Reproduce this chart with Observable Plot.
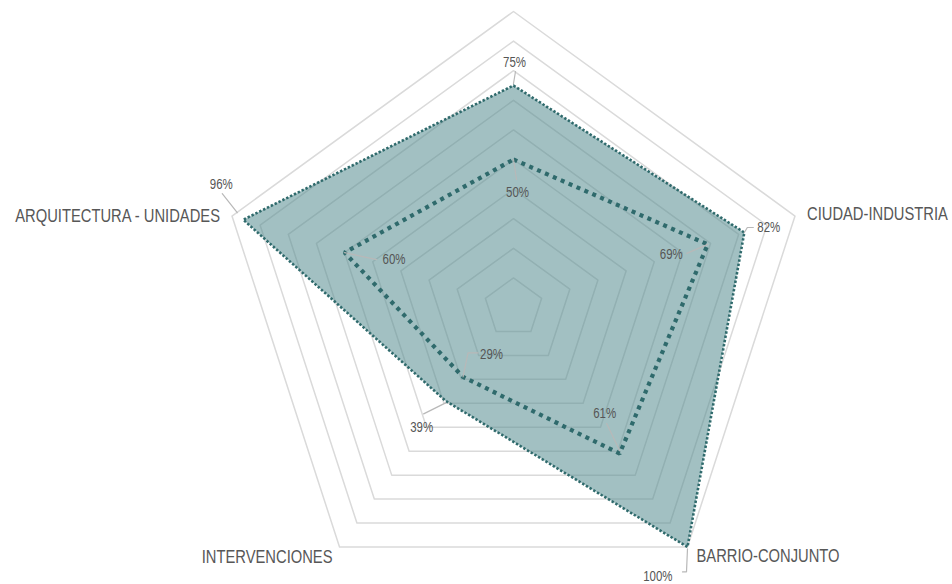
<!DOCTYPE html>
<html><head><meta charset="utf-8">
<script src="https://cdn.jsdelivr.net/npm/d3@7"></script>
<script src="https://cdn.jsdelivr.net/npm/@observablehq/plot@0.6"></script>
<style>body{margin:0;background:#fff;overflow:hidden}</style>
</head><body><div id="chart"></div>
<script>
// ---- data ----
const categories = ["", "CIUDAD-INDUSTRIA", "BARRIO-CONJUNTO", "INTERVENCIONES", "ARQUITECTURA - UNIDADES"];
const outerValues = [0.75, 0.82, 1.00, 0.39, 0.96];
const innerValues = [0.50, 0.69, 0.61, 0.29, 0.60];
const gridLevels = [0.1, 0.2, 0.3, 0.4, 0.5, 0.6, 0.7, 0.8, 0.9, 1.0];

// ---- layout ----
const W = 952, H = 584, CX = 513, CY = 307, R = 296;
const n = categories.length;
const ang = i => i * 2 * Math.PI / n;
const vx = (i, v) => v * Math.sin(ang(i));
const vy = (i, v) => v * Math.cos(ang(i));
const FONT = "'Liberation Sans',Arial,sans-serif";
const NARROW = 0.82; // horizontal condensation of all text

// leader / label offsets in pixels relative to each vertex
const outerLabelLayout = [
  {leader: [[0,-2],[2,-14]], text: [1,-23], anchor: "middle"},
  {leader: [[0,0],[3,-5],[9,-5]], text: [13,-5], anchor: "start"},
  {leader: [[0,2],[-1,25],[-5,25]], text: [-15,30], anchor: "end"},
  {leader: [[0,2],[-22,13]], text: [-24,27], anchor: "middle"},
  {leader: [[-6,-7],[-21,-26]], text: [-22,-35], anchor: "middle"}
];
const innerLabelLayout = [
  {leader: [[0,0],[3,20]], text: [4,33], anchor: "middle"},
  {leader: [[0,0],[-21,9]], text: [-25,10], anchor: "end"},
  {leader: [[0,-3],[-13,-30]], text: [-15,-40], anchor: "middle"},
  {leader: [[0,0],[5,-24],[15,-24]], text: [17,-22], anchor: "start"},
  {leader: [[0,0],[32,7]], text: [38,7], anchor: "start"}
];
const axisLabelLayout = [
  null,
  {text: [12,-2], anchor: "start"},
  {text: [9,9], anchor: "start"},
  {text: [-7,10], anchor: "end"},
  {text: [-12,0], anchor: "end"}
];

const pts = vals => vals.map((v, i) => ({i, v, x: vx(i, v), y: vy(i, v)}));
const outerPts = pts(outerValues);
const innerPts = pts(innerValues);
const grid = gridLevels.flatMap(l => categories.map((c, i) => ({level: l, x: vx(i, l), y: vy(i, l)})));

const off = (p, d) => ({x: p.x + d[0] / R, y: p.y - d[1] / R});

const marks = [
  Plot.line(grid, {x: "x", y: "y", z: "level", curve: "linear-closed", stroke: "#dadada", strokeWidth: 1.5}),
  Plot.line(outerPts, {x: "x", y: "y", curve: "linear-closed", fill: "#5a8f92", fillOpacity: 0.56, stroke: "none"}),
  Plot.line(innerPts, {x: "x", y: "y", curve: "linear-closed", stroke: "#2f6a6c", strokeWidth: 4.2, strokeDasharray: "4,4.6", strokeLinecap: "butt", strokeLinejoin: "miter"}),
  Plot.line(outerPts, {x: "x", y: "y", curve: "linear-closed", stroke: "#2f6a6c", strokeWidth: 2.6, strokeDasharray: "2.4,1.9", strokeLinecap: "butt", strokeLinejoin: "miter"})
];

function addLabels(points, layout) {
  points.forEach((p, k) => {
    const L = layout[k];
    marks.push(Plot.line(L.leader.map(d => off(p, d)), {x: "x", y: "y", stroke: "#b8b8b8", strokeWidth: 1.2, strokeLinejoin: "miter"}));
    const t = off(p, L.text);
    marks.push(Plot.text([{...t, label: Math.round(p.v * 100) + "%"}], {x: "x", y: "y", text: "label", textAnchor: L.anchor, fontSize: 14, fill: "#555"}));
  });
}
addLabels(outerPts, outerLabelLayout);
addLabels(innerPts, innerLabelLayout);

const axisPts = pts(categories.map(() => 1));
axisPts.forEach((p, k) => {
  const L = axisLabelLayout[k];
  if (!L || !categories[k]) return;
  const t = off(p, L.text);
  marks.push(Plot.text([{...t, label: categories[k]}], {x: "x", y: "y", text: "label", textAnchor: L.anchor, fontSize: 18, fill: "#575757"}));
});

const chart = Plot.plot({
  width: W, height: H,
  margin: 0,
  x: {domain: [-CX / R, (W - CX) / R], range: [0, W], axis: null},
  y: {domain: [-(H - CY) / R, CY / R], range: [H, 0], axis: null},
  style: {fontFamily: FONT, background: "#fff"},
  marks
});
document.getElementById("chart").appendChild(chart);
// condense text horizontally (narrow face look), scaled about each text's anchor
chart.querySelectorAll('g[aria-label="text"] text').forEach(t => {
  const tr = t.getAttribute("transform") || "";
  t.setAttribute("transform", (tr + ` scale(${NARROW},1)`).trim());
});
</script>
</body></html>
